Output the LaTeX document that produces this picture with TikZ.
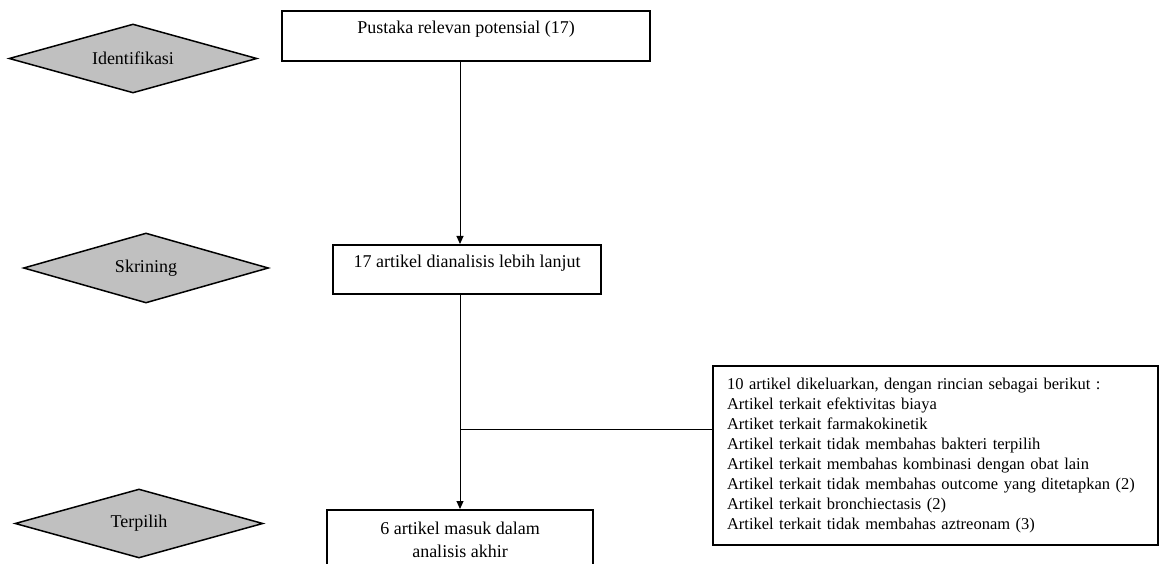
\documentclass[tikz,border=0pt]{standalone}
\usepackage{fontspec}
\setmainfont{Liberation Serif}
\usetikzlibrary{shapes.geometric,arrows.meta}
\definecolor{stagegray}{HTML}{C0C0C0}
\begin{document}
\begin{tikzpicture}[x=1pt,y=-1pt,
  stage/.style={diamond, draw, line width=1.5pt, fill=stagegray, aspect=3.6,
    minimum width=248pt, minimum height=69pt, inner sep=0pt,
    font=\fontsize{18}{22}\selectfont},
  flowbox/.style={rectangle, draw, line width=2pt, inner sep=0pt, align=center,
    font=\fontsize{18}{23}\selectfont},
  notebox/.style={rectangle, draw, line width=2pt, inner xsep=14pt, inner ysep=12pt,
    align=left, text width=417pt, font=\fontsize{16.5}{20}\selectfont},
  conn/.style={line width=1pt},
  arr/.style={conn, -{Triangle[length=8pt,width=7pt]}}
]
\useasboundingbox (0,0) rectangle (1160,564);
\clip (0,0) rectangle (1160,564);

% stage diamonds
\node[stage] (d1) at (133,58.5) {Identifikasi};
\node[stage, minimum width=245pt, minimum height=70pt] (d2) at (146,268) {Skrining};
\node[stage] (d3) at (139,523.5) {Terpilih};

% flow boxes
\node[flowbox, anchor=north, minimum width=368pt, text height=23pt, text depth=27pt]
  (b1) at (466,10) {Pustaka relevan potensial (17)};
\node[flowbox, anchor=north, minimum width=268pt, text height=23pt, text depth=26pt]
  (b2) at (467,244) {17 artikel dianalisis lebih lanjut};
\node[flowbox, anchor=north, minimum width=266pt, minimum height=59pt]
  (b4) at (460,509) {6 artikel masuk dalam\\analisis akhir};

% exclusion box
\node[notebox, anchor=north west] (b3) at (712,365) {%
10 artikel dikeluarkan, dengan rincian sebagai berikut :\\
Artikel terkait efektivitas biaya\\
Artiket terkait farmakokinetik\\
Artikel terkait tidak membahas bakteri terpilih\\
Artikel terkait membahas kombinasi dengan obat lain\\
Artikel terkait tidak membahas outcome yang ditetapkan (2)\\
Artikel terkait bronchiectasis (2)\\
Artikel terkait tidak membahas aztreonam (3)};

% connectors
\coordinate (br) at (460,429);
\draw[arr] (b1.south -| b4.north) -- (b2.north -| b4.north);
\draw[arr] (b2.south -| b4.north) -- (b4.north);
\draw[conn] (br) -- (br -| b3.west);
\end{tikzpicture}
\end{document}
